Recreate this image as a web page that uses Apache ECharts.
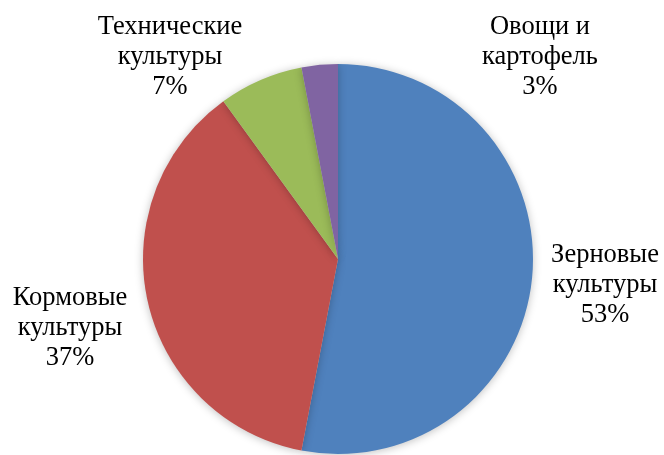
<!DOCTYPE html>
<html><head><meta charset="utf-8">
<script src="https://cdn.jsdelivr.net/npm/echarts@6/dist/echarts.min.js"></script>
<style>html,body{margin:0;padding:0;background:#fff}#c{width:664px;height:455px}</style>
</head><body><div id="c"></div>
<script>
const categories = ['Зерновые\nкультуры', 'Кормовые\nкультуры', 'Технические\nкультуры', 'Овощи и\nкартофель'];
const values = [53, 37, 7, 3];
const colors = ['#4F81BD', '#C0504D', '#9BBB59', '#8064A2'];
const labelPos = [[605, 285], [70, 328], [170, 57], [540, 57]];

const chart = echarts.init(document.getElementById('c'));
chart.setOption({
  animation: false,
  series: [{
    type: 'pie',
    center: [338, 259],
    radius: 195,
    startAngle: 90,
    clockwise: true,
    data: categories.map((n, i) => ({ name: n, value: values[i], itemStyle: { color: colors[i] } })),
    itemStyle: { borderWidth: 0, shadowBlur: 8, shadowColor: 'rgba(0,0,0,0.25)', shadowOffsetY: 1 },
    label: {
      show: true,
      position: 'outside',
      alignTo: 'none',
      overflow: 'none',
      width: 300,
      formatter: '{b}\n{d}%',
      fontFamily: 'Liberation Serif',
      fontSize: 26.5,
      lineHeight: 30,
      color: '#000',
      align: 'center'
    },
    labelLine: { show: false },
    labelLayout: function (p) {
      const pos = labelPos[p.dataIndex];
      return { x: pos[0], y: pos[1], align: 'center', verticalAlign: 'middle' };
    }
  }]
});
</script></body></html>
